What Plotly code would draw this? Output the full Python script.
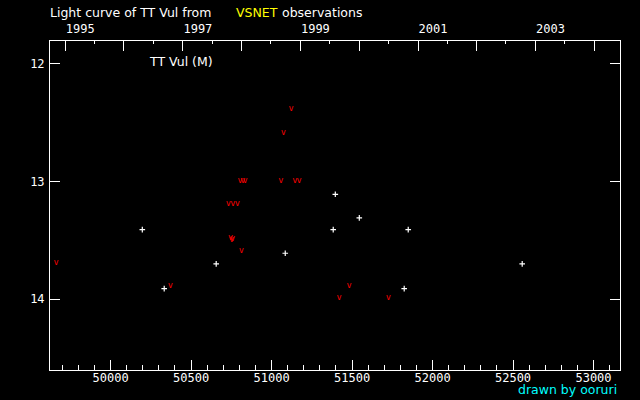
import plotly.graph_objects as go
from datetime import date

# visual observations (white +), MJD and magnitude
obs_mjd = [50197, 50333, 50656, 51085, 51396, 51545, 51383, 51849, 51824, 52557]
obs_mag = [13.41, 13.91, 13.70, 13.61, 13.11, 13.31, 13.41, 13.41, 13.91, 13.70]

# fainter-than observations (red v)
lim_mjd = [49661, 50371, 50732, 50760, 50788, 50745, 50752, 50758, 50804, 50822,
           50835, 50812, 51058, 51073, 51122, 51144, 51171, 51420, 51482, 51725]
lim_mag = [13.69, 13.89, 13.19, 13.19, 13.19, 13.48, 13.50, 13.49, 13.00, 13.00,
           13.00, 13.59, 13.00, 12.59, 12.39, 13.00, 13.00, 13.99, 13.89, 13.99]

years = list(range(1995, 2005))
x_range = [49623.5, 53164.6]
y_range = [14.6, 11.81]


def mjd(d):
    return (d - date(1858, 11, 17)).days


year_ticks = [mjd(date(y, 1, 1)) for y in years]
half_ticks = [mjd(date(y, 7, 1)) for y in years]
year_text = [str(y) if y % 2 else "" for y in years]

white = "#ffffff"
font = "DejaVu Sans"
mono = "DejaVu Sans Mono"

fig = go.Figure()
fig.add_trace(go.Scatter(
    x=obs_mjd, y=obs_mag, mode="markers",
    marker=dict(symbol="cross-thin-open", size=4, color=white,
                line=dict(color=white, width=1.2)),
    showlegend=False,
))
fig.add_trace(go.Scatter(
    x=lim_mjd, y=lim_mag, mode="text", text=["v"] * len(lim_mjd),
    textfont=dict(family=font, size=8, color="#ff0000"),
    showlegend=False,
))
# empty trace so the year axis on top gets drawn
fig.add_trace(go.Scatter(x=x_range, y=[None, None], xaxis="x2", mode="none",
                         showlegend=False, hoverinfo="skip"))

axis_common = dict(
    showgrid=False, zeroline=False, ticks="inside", ticklen=10,
    tickcolor=white, tickwidth=1,
)

fig.update_layout(
    width=640, height=400,
    paper_bgcolor="black", plot_bgcolor="black",
    margin=dict(l=50, r=20, t=41, b=30),
    xaxis=dict(
        range=x_range, tick0=0, dtick=500, tickformat="d",
        showline=True, linecolor=white, mirror=True, ticklabelstandoff=-3,
        tickfont=dict(family=mono, size=12, color=white),
        minor=dict(dtick=100, ticks="inside", ticklen=5, tickcolor=white),
        **axis_common,
    ),
    xaxis2=dict(
        range=x_range, overlaying="x", side="top", tickmode="array",
        tickvals=year_ticks, ticktext=year_text, ticklabelshift=15,
        ticklabelstandoff=5,
        tickfont=dict(family=mono, size=12, color=white),
        minor=dict(tickmode="array", tickvals=half_ticks, ticks="inside",
                   ticklen=3, tickcolor=white),
        **axis_common,
    ),
    yaxis=dict(
        range=y_range, dtick=1, showline=True, linecolor=white, mirror="ticks",
        ticklabelstandoff=2,
        tickfont=dict(family=mono, size=12, color=white),
        **axis_common,
    ),
)

annots = [
    ("Light curve of TT Vul from", 48, 12.5, white),
    ("VSNET", 234, 12.5, "#ffff00"),
    ("observations", 280, 12.5, white),
    ("TT Vul (M)", 147, 61, white),
]
for txt, px, py, col in annots:
    fig.add_annotation(
        text=txt, xref="paper", yref="paper",
        x=(px - 50) / 570, y=(370 - py) / 329,
        xanchor="left", yanchor="middle", showarrow=False,
        font=dict(family=font, size=12.5, color=col),
    )
fig.add_annotation(
    text="drawn by ooruri", xref="paper", yref="paper",
    x=(619 - 50) / 570, y=(370 - 390) / 329,
    xanchor="right", yanchor="middle", showarrow=False,
    font=dict(family=font, size=12.5, color="#00ffff"),
)

fig.write_html("out.html", config={"displayModeBar": False},
               post_script="document.body.style.margin='0';")
